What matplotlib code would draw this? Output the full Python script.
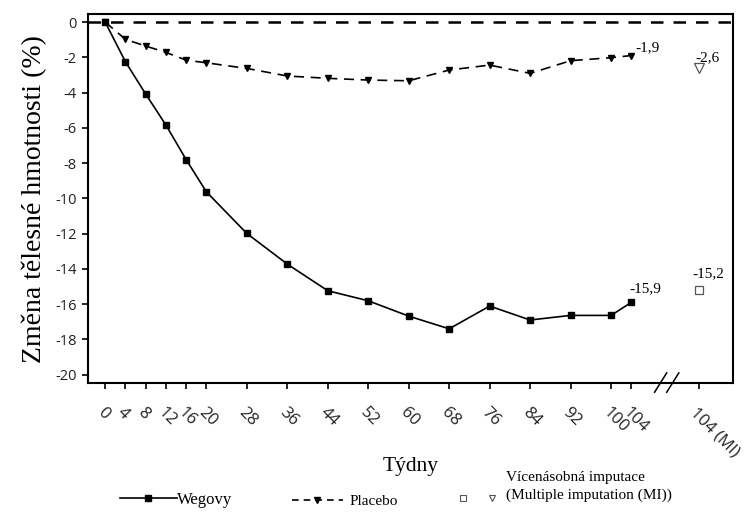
import matplotlib
matplotlib.use("Agg")
import matplotlib.pyplot as plt
from matplotlib.lines import Line2D
from matplotlib.legend_handler import HandlerTuple

# data (weeks, % body weight change)
weeks = [0, 4, 8, 12, 16, 20, 28, 36, 44, 52, 60, 68, 76, 84, 92, 100, 104]
wegovy = [0, -2.25, -4.08, -5.84, -7.8, -9.63, -11.99, -13.73, -15.24, -15.81,
          -16.68, -17.4, -16.11, -16.9, -16.64, -16.64, -15.9]
placebo = [0, -0.98, -1.36, -1.72, -2.16, -2.31, -2.63, -3.06, -3.19, -3.29,
           -3.33, -2.72, -2.44, -2.91, -2.19, -2.02, -1.9]
mi_wegovy = -15.2
mi_placebo = -2.6
tick_labels = ["0", "4", "8", "12", "16", "20", "28", "36", "44", "52", "60",
               "68", "76", "84", "92", "100", "104", "104 (MI)"]

MI_POS = 117.3   # x position of the multiple-imputation column
BREAK_POS = 111.0

serif = ["Liberation Serif", "DejaVu Serif"]
sans = ["Open Sans", "DejaVu Sans"]

fig = plt.figure(figsize=(7.54, 5.12), dpi=100)
ax = fig.add_axes([0.1167, 0.2514, 0.9721 - 0.1167, 0.9717 - 0.2514])

ax.axhline(0, color="black", lw=1.8, ls=(0, (5, 4)), zorder=1)
ax.plot(weeks, wegovy, color="black", lw=1.2, marker="s", ms=4.5, zorder=3)
ax.plot(weeks, placebo, color="black", lw=1.2, ls=(0, (6, 4)), marker="v",
        ms=5, zorder=3)
ax.plot([MI_POS], [mi_wegovy], ls="none", marker="s", ms=6, mfc="white",
        mec="#555555", mew=0.9)
ax.plot([MI_POS], [mi_placebo], ls="none", marker="v", ms=6.5, mfc="white",
        mec="#555555", mew=0.9)

# value labels
lab_kw = dict(textcoords="offset points", fontsize=11, family=serif)
ax.annotate("-1,9", (weeks[-1], placebo[-1]), xytext=(3, 1), ha="left",
            va="bottom", **lab_kw)
ax.annotate("-2,6", (MI_POS, mi_placebo), xytext=(-2, 3), ha="left",
            va="bottom", **lab_kw)
ax.annotate("-15,9", (weeks[-1], wegovy[-1]), xytext=(10, 5), ha="center",
            va="bottom", **lab_kw)
ax.annotate("-15,2", (MI_POS, mi_wegovy), xytext=(7, 7), ha="center",
            va="bottom", **lab_kw)

ax.set_xlim(-3.4, 124.1)
ax.set_ylim(-20.49, 0.43)
ax.set_yticks(range(0, -21, -2))
ax.set_yticklabels([str(v) for v in range(0, -21, -2)], family=sans,
                   fontsize=10.5, color="#222222")
ax.set_xticks(weeks + [MI_POS])
ax.set_xticklabels(tick_labels, rotation=-45, ha="left", va="top",
                   rotation_mode="anchor", family=sans, fontsize=12,
                   color="#222222")
ax.tick_params(axis="both", direction="out", length=4.5, width=1.2)
ax.tick_params(axis="x", pad=11)
for s in ax.spines.values():
    s.set_linewidth(1.5)

# axis break marks on the bottom spine
for dx in (-1.2, 1.2):
    ax.plot([BREAK_POS + dx - 1.2, BREAK_POS + dx + 1.2], [-21.0, -19.9],
            color="black", lw=1.1, clip_on=False, zorder=5)

ax.set_ylabel("Změna tělesné hmotnosti (%)", family=serif, fontsize=20,
              labelpad=6)
fig.text(0.544, 0.088, "Týdny", family=serif, fontsize=15.5, ha="center",
         va="center")
fig.text(0.671, 0.080, "Vícenásobná imputace\n(Multiple imputation (MI))",
         family=serif, fontsize=11, ha="left", va="top", linespacing=1.45)

# legend entries, placed one by one along the bottom edge
leg_kw = dict(frameon=False, loc="center left", borderpad=0,
              borderaxespad=0, prop={"family": serif, "size": 12})
leg1 = fig.legend([Line2D([], [], color="black", lw=1.2, marker="s", ms=4)],
                  ["Wegovy"], bbox_to_anchor=(0.159, 0.024),
                  handlelength=3.4, handletextpad=0.0, **leg_kw)
leg2 = fig.legend([Line2D([], [], color="black", lw=1.2, ls=(0, (4, 3)),
                          marker="v", ms=4.5)],
                  ["Placebo"], bbox_to_anchor=(0.387, 0.021),
                  handlelength=3.35, handletextpad=0.4,
                  **{**leg_kw, "prop": {"family": serif, "size": 11}})
mi_handle = (Line2D([], [], ls="none", marker="s", ms=5, mfc="white",
                    mec="#555555", mew=0.8),
             Line2D([], [], ls="none", marker="v", ms=5, mfc="white",
                    mec="#555555", mew=0.8))
leg3 = fig.legend([mi_handle], [""], bbox_to_anchor=(0.605, 0.024),
                  handlelength=2.6, handletextpad=0.0,
                  handler_map={tuple: HandlerTuple(ndivide=None, pad=0.9)},
                  **leg_kw)

fig.savefig("out.png", dpi=100)
